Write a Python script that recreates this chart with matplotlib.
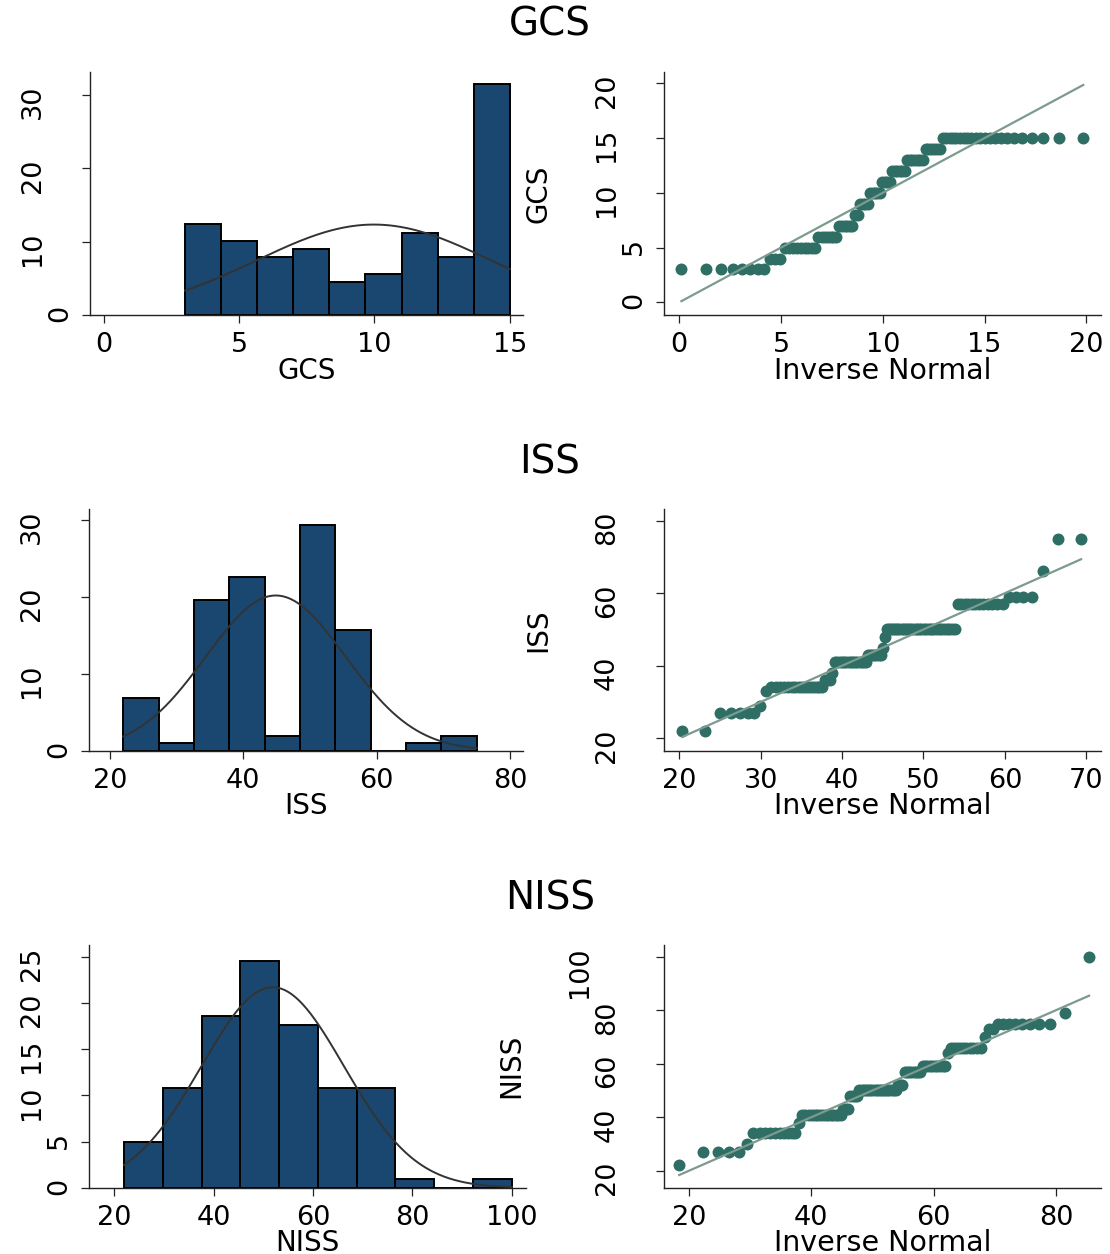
import numpy as np
import matplotlib
matplotlib.use('Agg')
import matplotlib.pyplot as plt
from matplotlib.transforms import ScaledTranslation
from statistics import NormalDist

# observed scores and how many patients have each score
gcs_values = [3, 4, 5, 6, 7, 8, 9, 10, 11, 12, 13, 14, 15]
gcs_counts = [8, 3, 9, 7, 6, 2, 4, 5, 4, 6, 7, 6, 22]

iss_values = [22, 27, 29, 33, 34, 36, 38, 41, 43, 45, 48, 50, 57, 59, 66, 75]
iss_counts = [2, 5, 1, 1, 16, 3, 1, 15, 7, 1, 1, 30, 12, 4, 1, 2]

niss_values = [22, 27, 30, 34, 38, 41, 43, 48, 50, 52, 57, 59, 64, 66, 70, 73, 75, 79, 100]
niss_counts = [1, 4, 1, 10, 1, 15, 3, 4, 18, 3, 8, 10, 1, 10, 1, 2, 8, 1, 1]

names = ['GCS', 'ISS', 'NISS']
n_bins = [9, 10, 10]

# tick labels for each panel
hist_xticks = [[0, 5, 10, 15], [20, 40, 60, 80], [20, 40, 60, 80, 100]]
hist_yticks = [[0, 10, 20, 30], [0, 10, 20, 30], [0, 5, 10, 15, 20, 25]]
qq_xticks = [[0, 5, 10, 15, 20], [20, 30, 40, 50, 60, 70], [20, 40, 60, 80]]
qq_yticks = [[0, 5, 10, 15, 20], [20, 40, 60, 80], [20, 40, 60, 80, 100]]

# layout (pixels in a 1110x1254 picture) and axis ranges
W, H = 1110, 1254
hist_box = [(90, 523, 71.7, 315), (89.3, 523, 509, 750.7), (89.3, 526, 945, 1187.7)]
qq_box = [(664, 1101, 71.7, 315), (664, 1101, 509, 750.7), (664.2, 1100.8, 945, 1187.7)]
hist_xlim = [(-0.517, 15.49), (16.9, 81.95), (15.0, 102.9)]
hist_ylim = [(0, 33.15), (0, 31.43), (0, 26.27)]
qq_xlim = [(-0.75, 20.72), (18.13, 71.8), (15.93, 87.35)]
qq_ylim = [(-1.16, 21.06), (16.58, 83.2), (13.64, 104.4)]
title_y = [25, 462, 898]
ylab_x = [-0.256, -0.256, -0.318]
xlab_y = [-0.172, -0.172, -0.169]

bar_color = '#1a476f'
dot_color = '#2e6e64'
ref_color = '#7c9a8e'
axis_color = '#222222'

plt.rcParams['font.family'] = 'DejaVu Sans'

fig = plt.figure(figsize=(W / 100, H / 100), dpi=100)


def make_axes(box):
    x0, x1, y0, y1 = box
    return fig.add_axes([x0 / W, 1 - y1 / H, (x1 - x0) / W, (y1 - y0) / H])


def style(ax, xt, yt):
    for s in ['top', 'right']:
        ax.spines[s].set_visible(False)
    for s in ['left', 'bottom']:
        ax.spines[s].set_color(axis_color)
        ax.spines[s].set_linewidth(1.0)
    ax.tick_params(direction='out', length=5.8, width=0.9, color=axis_color, labelsize=19.5)
    ax.tick_params(axis='x', pad=6.5)
    ax.tick_params(axis='y', labelrotation=90, pad=6.5)
    ax.set_xticks(xt, [str(v) for v in xt])
    ax.set_yticks(yt, [str(v) for v in yt])
    # longer labels sit further left, like the original
    for lab in ax.get_yticklabels():
        n = len(lab.get_text())
        lab.set_transform(lab.get_transform() + ScaledTranslation(-(n - 1) * 0.27, 0, fig.dpi_scale_trans))


all_values = [gcs_values, iss_values, niss_values]
all_counts = [gcs_counts, iss_counts, niss_counts]

for i in range(3):
    data = np.repeat(all_values[i], all_counts[i]).astype(float)
    n = len(data)
    m = data.mean()
    s = data.std(ddof=1)

    # histogram in percent with normal curve
    ax = make_axes(hist_box[i])
    edges = np.round(np.linspace(data.min(), data.max(), n_bins[i] + 1), 6)
    bw = edges[1] - edges[0]
    ax.hist(data, bins=edges, weights=np.full(n, 100.0 / n), color=bar_color,
            edgecolor='black', linewidth=1.4, zorder=2)
    xs = np.linspace(data.min(), data.max(), 300)
    ys = 100 * bw * np.exp(-0.5 * ((xs - m) / s) ** 2) / (s * np.sqrt(2 * np.pi))
    ax.plot(xs, ys, color='#333333', lw=1.4, zorder=3)
    ax.set_xlim(hist_xlim[i])
    ax.set_ylim(hist_ylim[i])
    style(ax, hist_xticks[i], hist_yticks[i])
    ax.set_xlabel(names[i], fontsize=20)
    ax.xaxis.set_label_coords(0.5, xlab_y[i])

    # normal quantile plot
    ax = make_axes(qq_box[i])
    nd = NormalDist(m, s)
    q = np.array([nd.inv_cdf(k / (n + 1)) for k in range(1, n + 1)])
    ax.plot(q, np.sort(data), 'o', ms=8.6, color=dot_color, mec='none', zorder=2)
    ax.plot([q[0], q[-1]], [q[0], q[-1]], color=ref_color, lw=1.6, zorder=3)
    ax.set_xlim(qq_xlim[i])
    ax.set_ylim(qq_ylim[i])
    style(ax, qq_xticks[i], qq_yticks[i])
    ax.set_xlabel('Inverse Normal', fontsize=20.5)
    ax.xaxis.set_label_coords(0.5, xlab_y[i])
    ax.set_ylabel(names[i], fontsize=20)
    ax.yaxis.set_label_coords(ylab_x[i], 0.5)

    fig.text(550 / W, 1 - title_y[i] / H, names[i], ha='center', va='center', fontsize=28)

fig.savefig('out.png', dpi=100)
